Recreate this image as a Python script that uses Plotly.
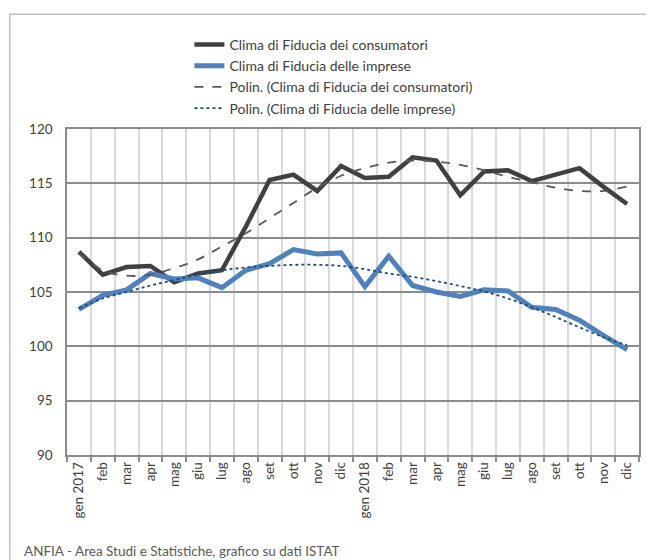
import plotly.graph_objects as go

mesi = ["gen 2017", "feb", "mar", "apr", "mag", "giu", "lug", "ago", "set", "ott", "nov", "dic",
        "gen 2018", "feb", "mar", "apr", "mag", "giu", "lug", "ago", "set", "ott", "nov", "dic"]

consumatori = [108.7, 106.6, 107.3, 107.4, 105.9, 106.7, 107.0, 111.0, 115.3, 115.8, 114.3, 116.6,
               115.5, 115.6, 117.4, 117.1, 113.9, 116.1, 116.2, 115.2, 115.8, 116.4, 114.7, 113.1]
imprese = [103.4, 104.7, 105.2, 106.7, 106.2, 106.3, 105.4, 107.0, 107.6, 108.9, 108.5, 108.6,
           105.5, 108.3, 105.6, 105.0, 104.6, 105.2, 105.1, 103.6, 103.4, 102.4, 101.0, 99.7]

# tendenze polinomiali
polin_consumatori = [108.6, 107.0, 106.5, 106.6, 107.2, 108.0, 109.2, 110.4, 111.8, 113.2, 114.6, 115.7,
                     116.4, 116.9, 117.1, 117.0, 116.7, 116.2, 115.6, 115.1, 114.6, 114.3, 114.3, 114.7]
polin_imprese = [103.5, 104.4, 105.0, 105.6, 106.1, 106.6, 107.0, 107.25, 107.4, 107.5, 107.5, 107.4,
                 107.1, 106.7, 106.4, 106.0, 105.55, 105.05, 104.4, 103.6, 102.7, 101.75, 100.85, 100.1]

x = list(range(len(mesi)))
confini = [i - 0.5 for i in range(len(mesi) + 1)]

fig = go.Figure()
fig.add_trace(go.Scatter(x=x, y=consumatori, mode="lines", name="Clima di Fiducia dei consumatori",
                         line=dict(color="#404040", width=4.5)))
fig.add_trace(go.Scatter(x=x, y=imprese, mode="lines", name="Clima di Fiducia delle imprese",
                         line=dict(color="#4f81bd", width=5)))
fig.add_trace(go.Scatter(x=x, y=polin_consumatori, mode="lines",
                         name="Polin. (Clima di Fiducia dei consumatori)",
                         line=dict(color="#595959", width=1.8, dash="dash", shape="spline")))
fig.add_trace(go.Scatter(x=x, y=polin_imprese, mode="lines",
                         name="Polin. (Clima di Fiducia delle imprese)",
                         line=dict(color="#1f4e79", width=1.8, dash="dot", shape="spline")))

# la pagina ha un margine di 8px: la figura è ridotta di conseguenza
fig.update_layout(
    width=646, height=552,
    margin=dict(l=59, r=15, t=121, b=105),
    paper_bgcolor="white", plot_bgcolor="white",
    font=dict(family="Lato, Liberation Sans, sans-serif", size=13.5, color="#404040"),
    showlegend=True,
    legend=dict(x=0.214, y=1.307, xanchor="left", yanchor="top",
                bgcolor="rgba(0,0,0,0)", font=dict(size=14, color="#404040")),
    xaxis=dict(range=[-0.5, 23.5], tickmode="array", tickvals=x, ticktext=mesi,
               tickangle=-90, showgrid=False, ticks="", zeroline=False,
               showline=True, linecolor="#8c8c8c", linewidth=1.5, mirror=True,
               minor=dict(tickvals=confini, showgrid=True, gridcolor="#d9d9d9", gridwidth=1.5,
                          ticks="outside", ticklen=5, tickcolor="#8c8c8c", tickwidth=1.5)),
    yaxis=dict(range=[90, 120], dtick=5, showgrid=True, gridcolor="#8c8c8c", gridwidth=1.5,
               zeroline=False, showline=True, linecolor="#8c8c8c", linewidth=1.5, mirror=True,
               ticks="", ticklabelstandoff=10),
)

# cornice esterna del grafico
fig.add_shape(type="rect", xref="paper", yref="paper", x0=-0.1, x1=1.1, y0=-0.5, y1=1.352,
              line=dict(color="#bfbfbf", width=1.5), layer="below")

fig.add_annotation(text="ANFIA - Area Studi e Statistiche, grafico su dati ISTAT",
                   xref="paper", yref="paper", x=-0.079, y=-0.263, xanchor="left", yanchor="top",
                   showarrow=False, font=dict(size=13.5, color="#595959"))

fig.write_html("out.html")
